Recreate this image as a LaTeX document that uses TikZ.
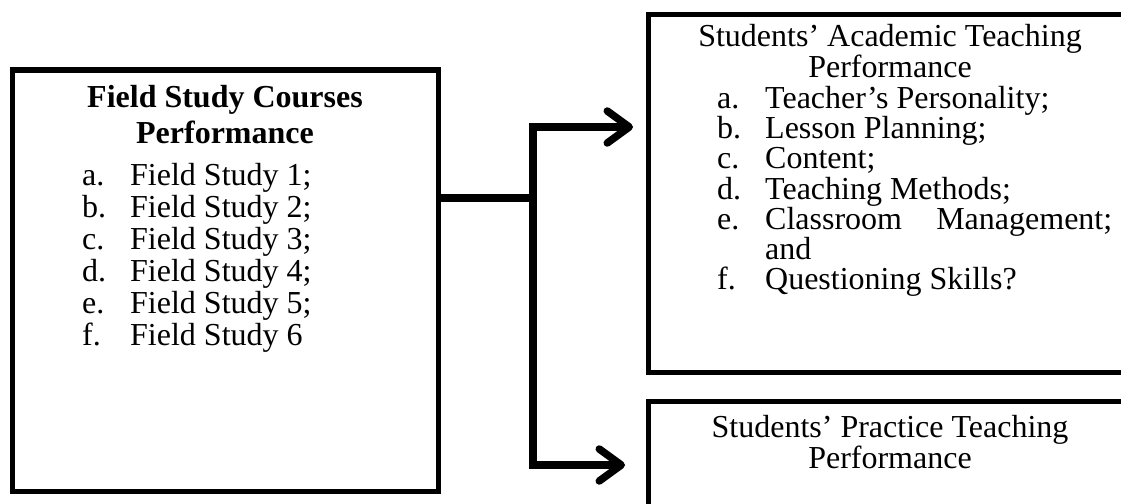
\documentclass[tikz,border=0pt]{standalone}
\usepackage{fontspec}
\setmainfont{Liberation Serif}
\usepackage{tikz}
\usetikzlibrary{positioning, arrows.meta, calc}

\newcommand{\itm}[2]{\makebox[48pt][l]{#1}#2}

\begin{document}
\begin{tikzpicture}[
    x=1pt, y=-1pt,
    box/.style={draw, rectangle, line width=5pt, inner sep=0pt},
    txt/.style={inner sep=0pt, font=\fontsize{32}{32}\selectfont},
    title/.style={txt, align=center},
    list/.style={txt, align=left, anchor=north west},
    link/.style={line width=7.5pt},
    arrow/.style={link, -{Straight Barb[length=22pt, width=32pt, round]}}
]
\clip (0,0) rectangle (1121,503);
% Left -- Field Study courses
\node[box, minimum width=426pt, minimum height=421pt] (fsc) at (225,280.5) {};
\node[title, font=\fontsize{32}{36}\bfseries] (fsc_t) at (225,115)
      {Field Study Courses\\Performance};
\node[list] (fsc_l) at (82,163)
      {\itm{a.}{Field Study 1;}\\ \itm{b.}{Field Study 2;}\\
       \itm{c.}{Field Study 3;}\\ \itm{d.}{Field Study 4;}\\
       \itm{e.}{Field Study 5;}\\ \itm{f.}{Field Study 6}};
% Right -- academic teaching
\node[box, minimum width=512pt, minimum height=357pt] (satp) at (904,193.5) {};
\node[title, font=\fontsize{32}{28}\selectfont] (satp_t) at (890,51)
      {Students' Academic Teaching\\Performance};
\node[list, font=\fontsize{32}{30.2}\selectfont] (satp_l) at (717,86)
      {\itm{a.}{Teacher's Personality;}\\ \itm{b.}{Lesson Planning;}\\
       \itm{c.}{Content;}\\ \itm{d.}{Teaching Methods;}\\
       \itm{e.}{\makebox[347pt][s]{Classroom\hfill Management;}}\\
       \itm{}{and}\\ \itm{f.}{Questioning Skills?}};
% Right -- practice teaching
\node[box, minimum width=512pt, minimum height=139pt] (sptp) at (904,470.5) {};
\node[title, font=\fontsize{32}{28}\selectfont] (sptp_t) at (890,442)
      {Students' Practice Teaching\\Performance};
% Connectors
\coordinate (fork) at (533,198);
\coordinate (satp_in) at (633,127);
\coordinate (sptp_in) at (625,465);
\draw[link] (fsc.east |- fork) -- (fork);
\draw[arrow] ($(fork)+(0,3.75)$) |- (satp_in);
\draw[arrow] ($(fork)-(0,3.75)$) |- (sptp_in);
\end{tikzpicture}
\end{document}
